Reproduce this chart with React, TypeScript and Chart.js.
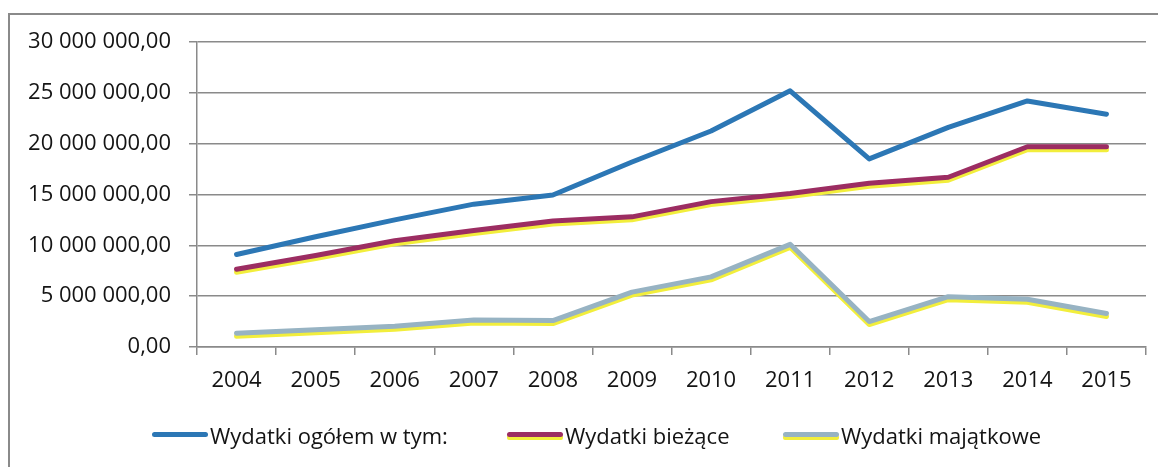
import React, { useEffect, useRef } from "react";
import { Chart, registerables } from "chart.js";

Chart.register(...registerables);

const years = ["2004", "2005", "2006", "2007", "2008", "2009", "2010", "2011", "2012", "2013", "2014", "2015"];
const wydatkiOgolem = [9100000, 10850000, 12500000, 14050000, 14950000, 18200000, 21250000, 25200000, 18500000, 21600000, 24200000, 22900000];
const wydatkiBiezace = [7650000, 9000000, 10450000, 11450000, 12400000, 12800000, 14300000, 15100000, 16100000, 16700000, 19700000, 19700000];
const wydatkiMajatkowe = [1350000, 1700000, 2050000, 2650000, 2600000, 5400000, 6900000, 10100000, 2500000, 4950000, 4700000, 3300000];
const seriesNames = ["Wydatki ogółem w tym:", "Wydatki bieżące", "Wydatki majątkowe"];

const BLUE = "#2c77b5";
const MAGENTA = "#9c2d62";
const GRAYBLUE = "#97b3c3";
const YELLOW = "#f2ee3c";
const GRID = "#8a8a8a";
const TEXT = "#141414";
const FONT = "'Open Sans', sans-serif";

const fmt = (v: number) => {
  const s = Math.round(v).toString().replace(/\B(?=(\d{3})+(?!\d))/g, " ");
  return s + ",00";
};

const shadowPlugin = {
  id: "yshadow",
  beforeDatasetDraw(chart: any, args: any) {
    const ds = chart.data.datasets[args.index];
    if (ds.yellowShadow) {
      const ctx = chart.ctx;
      ctx.save();
      ctx.shadowColor = YELLOW;
      ctx.shadowOffsetX = 0;
      ctx.shadowOffsetY = 3;
      ctx.shadowBlur = 0;
    }
  },
  afterDatasetDraw(chart: any, args: any) {
    const ds = chart.data.datasets[args.index];
    if (ds.yellowShadow) chart.ctx.restore();
  },
};

export default function App() {
  const ref = useRef<HTMLCanvasElement>(null);
  useEffect(() => {
    if (!ref.current) return;
    const common = { borderWidth: 5, pointRadius: 0, tension: 0, borderCapStyle: "round", borderJoinStyle: "round" };
    const chart = new Chart(ref.current, {
      type: "line",
      data: {
        labels: years,
        datasets: [
          { label: seriesNames[0], data: wydatkiOgolem, borderColor: BLUE, ...common } as any,
          { label: seriesNames[1], data: wydatkiBiezace, borderColor: MAGENTA, ...common, yellowShadow: true } as any,
          { label: seriesNames[2], data: wydatkiMajatkowe, borderColor: GRAYBLUE, ...common, yellowShadow: true } as any,
        ],
      },
      options: {
        responsive: false,
        animation: false,
        layout: { padding: { left: 0, top: 42, right: 12, bottom: 60 } },
        plugins: { legend: { display: false }, tooltip: { enabled: false } },
        scales: {
          x: {
            offset: true,
            grid: { offset: true, drawOnChartArea: false, drawTicks: true, tickLength: 8, color: GRID, lineWidth: 1.5 },
            border: { display: true, color: GRID, width: 1.5 },
            ticks: { font: { family: FONT, size: 22 }, color: TEXT, padding: 13, maxRotation: 0, autoSkip: false },
            afterFit: (s: any) => { s.height = 60; },
          },
          y: {
            min: 0,
            max: 30000000,
            grid: { color: GRID, lineWidth: 1.5, tickLength: 8, drawTicks: true },
            border: { display: true, color: GRID, width: 1.5 },
            ticks: { stepSize: 5000000, font: { family: FONT, size: 22 }, color: TEXT, padding: 18, callback: (v: any) => fmt(Number(v)) },
            afterFit: (s: any) => { s.width = 197; },
          },
        },
      },
      plugins: [shadowPlugin],
    });
    return () => chart.destroy();
  }, []);

  const legendItem = (left: number, color: string, shadow: boolean, text: string) => (
    <div style={{ position: "absolute", left, top: 419, height: 32, display: "flex", alignItems: "center" }}>
      <div style={{ position: "relative", width: 56, height: 10 }}>
        {shadow && <div style={{ position: "absolute", left: 0, top: 5, width: 56, height: 5, background: YELLOW, borderRadius: 2 }} />}
        <div style={{ position: "absolute", left: 0, top: 2, width: 56, height: 5, background: color, borderRadius: 3 }} />
      </div>
      <span style={{ fontFamily: FONT, fontSize: 22, color: TEXT, marginLeft: 2, whiteSpace: "nowrap" }}>{text}</span>
    </div>
  );

  return (
    <div style={{ position: "fixed", left: 0, top: 0, width: 1158, height: 467, background: "#fff", overflow: "hidden" }}>
      <div style={{ position: "absolute", left: 8, top: 13, width: 1170, height: 480, border: "2px solid #8a8a8a", boxSizing: "border-box" }} />
      <canvas ref={ref} width={1158} height={467} style={{ position: "absolute", left: 0, top: 0 }} />
      {legendItem(152, BLUE, false, seriesNames[0])}
      {legendItem(507, MAGENTA, true, seriesNames[1])}
      {legendItem(783, GRAYBLUE, true, seriesNames[2])}
    </div>
  );
}
